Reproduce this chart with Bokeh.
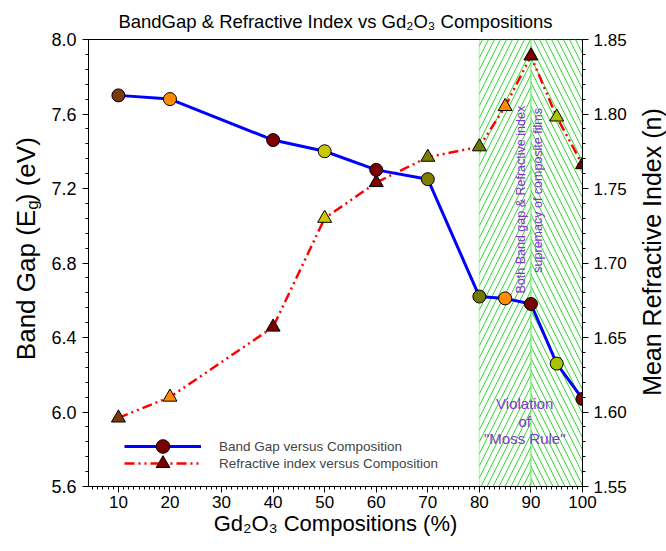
import math
import numpy as np
from bokeh.plotting import figure
from bokeh.layouts import row
from bokeh.models import (Range1d, LinearAxis, FixedTicker, NumeralTickFormatter, Label,
                          BoxAnnotation, Legend, LegendItem)
from bokeh.embed import file_html
from bokeh.resources import INLINE

# ---------------- data ----------------
compositions = [10, 20, 40, 50, 60, 70, 80, 85, 90, 95, 100]
band_gap = [7.70, 7.68, 7.46, 7.40, 7.30, 7.25, 6.62, 6.61, 6.58, 6.26, 6.07]
refractive_index = [1.596, 1.610, 1.657, 1.730, 1.754, 1.771, 1.778, 1.805, 1.839, 1.798, 1.766]
marker_colors = ["#7a3a08", "#ff8c00", "#7a0000", "#c8c800", "#7a0000", "#7d7d00",
                 "#6e7a00", "#ff8c00", "#7a0000", "#a8c400", "#7a0000"]
x_ticks = [10, 20, 30, 40, 50, 60, 70, 80, 90, 100]
bg_ticks = [5.6, 6.0, 6.4, 6.8, 7.2, 7.6, 8.0]
n_ticks = [1.55, 1.60, 1.65, 1.70, 1.75, 1.80, 1.85]
title_text = "BandGap & Refractive Index vs Gd\u2082O\u2083 Compositions"
x_label = "Gd\u2082O\u2083 Compositions (%)"
y_label_parts = ["Band Gap (E", "g", ") (eV)"]
y2_label = "Mean Refractive Index (n)"
legend_labels = ["Band Gap versus Composition", "Refractive index versus Composition"]
region_note = ["Both Band gap & Refractive index", "supremacy of composite films"]
violation_note = ["Violation", "of", "\"Moss Rule\""]

FONT = "Liberation Sans"
PURPLE = "#8436cc"
GREEN = "#2ee02e"
H = 551
LW, RW = 48, 36

p = figure(width=666 - LW - RW, height=H, output_backend="svg", toolbar_location=None,
           x_range=Range1d(4.2, 100), y_range=Range1d(5.6, 8.0),
           min_border_left=87 - LW, min_border_right=84 - RW, min_border_top=39, min_border_bottom=65)
p.extra_y_ranges = {"n": Range1d(1.55, 1.85)}

p.title.text = title_text
p.title.align = "center"
p.title.text_font = FONT
p.title.text_font_size = "18.5px"
p.title.text_font_style = "normal"
p.title.text_color = "black"
p.title.standoff = 16

p.xgrid.visible = False
p.ygrid.visible = False
p.outline_line_color = "black"
p.outline_line_width = 1


def style_axis(ax, size="17px"):
    ax.axis_line_color = "black"
    ax.major_tick_line_color = "black"
    ax.minor_tick_line_color = "black"
    ax.major_tick_in = 0
    ax.major_tick_out = 6
    ax.minor_tick_in = 0
    ax.minor_tick_out = 3
    ax.major_label_text_font = FONT
    ax.major_label_text_font_size = size
    ax.major_label_text_color = "black"
    ax.axis_label_text_font = FONT
    ax.axis_label_text_font_size = "22px"
    ax.axis_label_text_font_style = "normal"
    ax.axis_label_text_color = "black"


xa = p.xaxis[0]
xa.ticker = FixedTicker(ticks=x_ticks, minor_ticks=list(range(5, 101)))
xa.axis_label = x_label
xa.axis_label_standoff = 0
xa.major_label_standoff = 3
style_axis(xa)

ya = p.yaxis[0]
ya.ticker = FixedTicker(ticks=bg_ticks, minor_ticks=[round(v, 2) for v in np.arange(5.6, 8.001, 0.08)])
ya.formatter = NumeralTickFormatter(format="0.0")
ya.major_label_standoff = 6
style_axis(ya, "18px")

ra = LinearAxis(y_range_name="n")
ra.ticker = FixedTicker(ticks=n_ticks, minor_ticks=[round(v, 3) for v in np.arange(1.55, 1.8501, 0.01)])
ra.formatter = NumeralTickFormatter(format="0.00")
style_axis(ra)
p.add_layout(ra, "right")

# ---------------- shaded region ----------------
p.add_layout(BoxAnnotation(left=80, right=90, fill_color=None, fill_alpha=0,
                           hatch_pattern="/", hatch_color=GREEN, hatch_scale=12, hatch_weight=1,
                           line_color=GREEN, line_width=1.5, level="underlay"))
p.add_layout(BoxAnnotation(left=90, right=100, fill_color=None, fill_alpha=0,
                           hatch_pattern="\\", hatch_color=GREEN, hatch_scale=12, hatch_weight=1,
                           line_color=GREEN, line_width=1.5, level="underlay"))

# ---------------- series ----------------
r_line = p.line(compositions, refractive_index, y_range_name="n", line_color="red",
                line_width=2.5, line_dash="10 4 2 4 2 4")
r_pts = p.scatter(compositions, refractive_index, y_range_name="n", marker="triangle", size=14,
                  fill_color=marker_colors, line_color="black", line_width=1)

b_line = p.line(compositions, band_gap, line_color="blue", line_width=3)
b_pts = p.scatter(compositions, band_gap, marker="circle", size=13,
                  fill_color=marker_colors, line_color="black", line_width=1)

leg_kw = dict(glyph_width=77, glyph_height=34, label_height=15, spacing=0, padding=0, margin=0,
              label_standoff=18, border_line_alpha=0, background_fill_alpha=0,
              label_text_font=FONT, label_text_font_size="13.5px")
p.add_layout(Legend(items=[LegendItem(label=legend_labels[0], renderers=[b_line, b_pts], index=2)],
                    location=(36, 23), **leg_kw))
p.add_layout(Legend(items=[LegendItem(label=legend_labels[1], renderers=[r_line, r_pts], index=2)],
                    location=(36, 6), **leg_kw))

# ---------------- annotations ----------------
p.add_layout(Label(x=88.0, y=7.14, text=region_note[0], angle=math.pi / 2,
                   text_align="center", text_baseline="middle", text_color=PURPLE,
                   text_font=FONT, text_font_size="12.5px"))
p.add_layout(Label(x=91.3, y=7.19, text=region_note[1], angle=math.pi / 2,
                   text_align="center", text_baseline="middle", text_color=PURPLE,
                   text_font=FONT, text_font_size="12.5px"))
for txt, yy in zip(violation_note, [6.046, 5.949, 5.858]):
    p.add_layout(Label(x=88.8, y=yy, text=txt, text_align="center", text_baseline="middle",
                       text_color=PURPLE, text_font=FONT, text_font_size="15px"))

# ---------------- left axis title (with subscript) ----------------
lf = figure(width=LW, height=H, output_backend="svg", toolbar_location=None,
            x_range=Range1d(0, LW), y_range=Range1d(0, H), x_axis_type=None, y_axis_type=None,
            min_border=0, min_border_left=0, min_border_right=0, min_border_top=0, min_border_bottom=0)
lf.outline_line_color = None
fs, fsub = 26, 17
g_start = H - 210          # where the subscript begins (bottom-up reading)
g_w = 0.556 * fsub
pieces = [(y_label_parts[0], 25, g_start, "right", fs),
          (y_label_parts[1], 32, g_start, "left", fsub),
          (y_label_parts[2], 25, g_start + g_w, "left", fs)]
for txt, xx, yy, al, size in pieces:
    lf.add_layout(Label(x=xx, y=yy, text=txt, angle=math.pi / 2,
                        text_align=al, text_baseline="middle", text_color="black",
                        text_font=FONT, text_font_size=f"{size}px"))

# ---------------- right axis title ----------------
rf = figure(width=RW, height=H, output_backend="svg", toolbar_location=None,
            x_range=Range1d(0, RW), y_range=Range1d(0, H), x_axis_type=None, y_axis_type=None,
            min_border=0, min_border_left=0, min_border_right=0, min_border_top=0, min_border_bottom=0)
rf.outline_line_color = None
rf.add_layout(Label(x=21, y=H - 262, text=y2_label, angle=math.pi / 2, text_align="center",
                    text_baseline="middle", text_color="black", text_font=FONT,
                    text_font_size="25px"))

layout = row(lf, p, rf, spacing=0)
open("out.html", "w").write(file_html(layout, INLINE))
